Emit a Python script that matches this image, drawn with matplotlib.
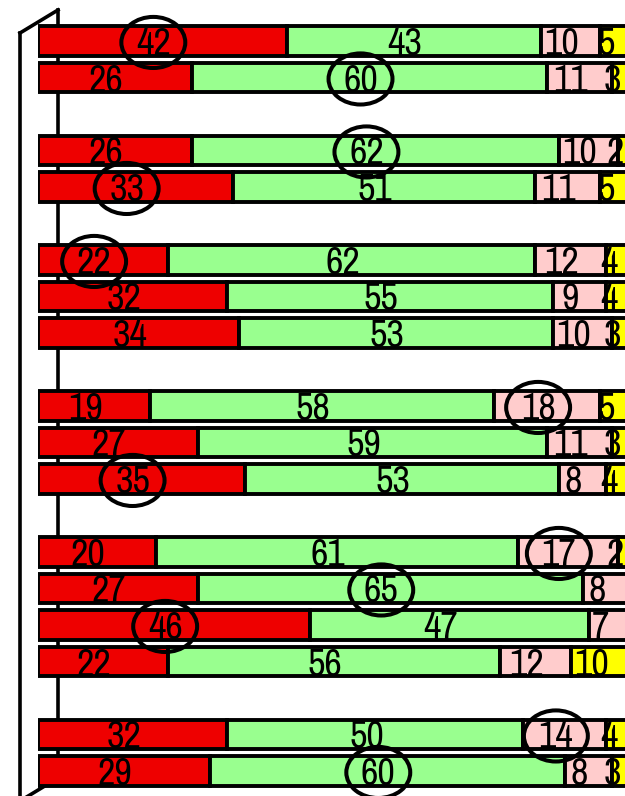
import matplotlib
matplotlib.use("Agg")
import matplotlib.pyplot as plt
from matplotlib.lines import Line2D
from matplotlib.patches import Ellipse
from matplotlib.transforms import offset_copy

plt.rcParams['font.family'] = ['Archivo Narrow', 'Roboto Condensed', 'DejaVu Sans']

group_sizes = [2, 2, 3, 3, 4, 2]
red = [42, 26, 26, 33, 22, 32, 34, 19, 27, 35, 20, 27, 46, 22, 32, 29]
green = [43, 60, 62, 51, 62, 55, 53, 58, 59, 53, 61, 65, 47, 56, 50, 60]
pink = [10, 11, 10, 11, 12, 9, 10, 18, 11, 8, 17, 8, 7, 12, 14, 8]
yellow = [5, 3, 2, 5, 4, 4, 3, 5, 3, 4, 2, 0, 0, 10, 4, 3]
# (row, segment) pairs whose labels get a ring
circled = [(0, 0), (1, 1), (2, 1), (3, 0), (4, 0), (7, 2), (9, 0),
           (10, 2), (11, 1), (12, 0), (14, 2), (15, 1)]

series = [red, green, pink, yellow]
colors = ["#ee0000", "#99ff8f", "#ffcccc", "#ffff00"]

# one empty slot between groups
ypos = []
slot = 0
for n in group_sizes:
    for i in range(n):
        ypos.append(slot)
        slot += 1
    slot += 1
nslots = slot - 1

W, H = 625, 796
fig = plt.figure(figsize=(W / 100, H / 100), dpi=100)
top_px, bot_px = 22.75, 789.25
ax = fig.add_axes([38 / W, 1 - bot_px / H, 592 / W, (bot_px - top_px) / H])
ax.set_facecolor("none")
ax.set_xlim(0, 100)
ax.set_ylim(nslots - 0.5, -0.5)
ax.axis("off")

lefts = [0] * len(red)
for vals, col in zip(series, colors):
    ax.barh(ypos, vals, left=lefts, height=0.8, color=col,
            edgecolor="black", linewidth=2.8, zorder=2)
    lefts = [l + v for l, v in zip(lefts, vals)]

shifted = offset_copy(ax.transData, fig=fig, x=-9, y=0, units="dots")
lefts = [0] * len(red)
for k, vals in enumerate(series):
    for i, v in enumerate(vals):
        if v > 0:
            xc = lefts[i] + v / 2
            ax.text(xc, ypos[i], str(v), transform=shifted, ha="center",
                    va="center_baseline", fontsize=27.5, color="black", zorder=4)
            if (i, k) in circled:
                ax.add_patch(Ellipse((xc, ypos[i] + 0.04), 10.8, 1.4,
                                     transform=shifted, fill=False,
                                     edgecolor="black", linewidth=2.9,
                                     zorder=5, clip_on=False))
    lefts = [l + v for l, v in zip(lefts, vals)]

# side wall of the chart box
def wall(xs, ys):
    fig.add_artist(Line2D([x / W for x in xs], [1 - y / H for y in ys],
                          color="black", linewidth=2.6, zorder=-1))

wall([20, 58], [33, 10])
wall([20, 20], [33, 805])
wall([58, 58], [10, 778])
wall([20, 58], [801, 778])

fig.savefig("out.png", dpi=100)
